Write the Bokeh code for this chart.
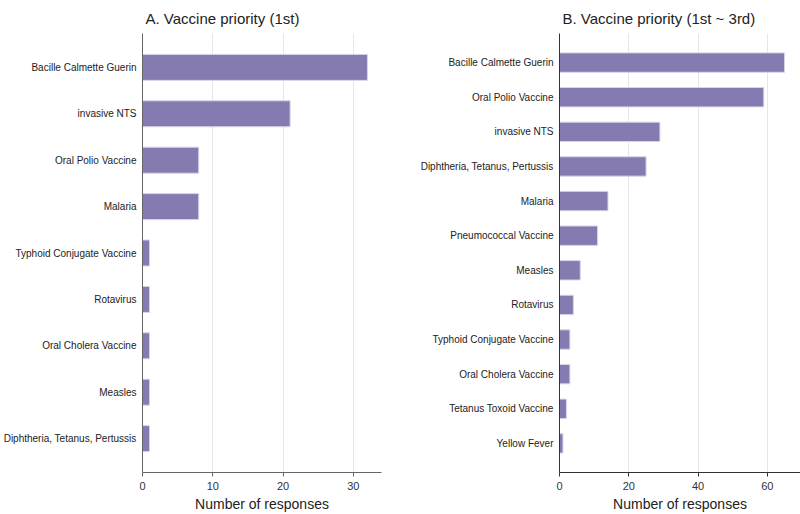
from bokeh.plotting import figure
from bokeh.layouts import row
from bokeh.models import ColumnDataSource, FactorRange, Range1d, SingleIntervalTicker
from bokeh.embed import file_html
from bokeh.resources import INLINE

# Panel A: first-choice vaccine priority
a_vaccines = ["Bacille Calmette Guerin", "invasive NTS", "Oral Polio Vaccine", "Malaria",
              "Typhoid Conjugate Vaccine", "Rotavirus", "Oral Cholera Vaccine", "Measles",
              "Diphtheria, Tetanus, Pertussis"]
a_counts = [32, 21, 8, 8, 1, 1, 1, 1, 1]

# Panel B: vaccine ranked anywhere in the top three
b_vaccines = ["Bacille Calmette Guerin", "Oral Polio Vaccine", "invasive NTS",
              "Diphtheria, Tetanus, Pertussis", "Malaria", "Pneumococcal Vaccine", "Measles",
              "Rotavirus", "Typhoid Conjugate Vaccine", "Oral Cholera Vaccine",
              "Tetanus Toxoid Vaccine", "Yellow Fever"]
b_counts = [65, 59, 29, 25, 14, 11, 6, 4, 3, 3, 2, 1]

FONT = "'Liberation Sans', Arial, sans-serif"
BAR = "#857bb0"


def panel(title, names, counts, x_end, interval, pad, left, right, axis_color):
    src = ColumnDataSource(dict(name=names, count=counts))
    p = figure(
        width=400, height=514,
        y_range=FactorRange(factors=list(reversed(names)), range_padding=pad,
                            range_padding_units="absolute"),
        x_range=Range1d(0, x_end),
        output_backend="svg", toolbar_location=None,
        min_border_left=left, min_border_right=right, min_border_top=29, min_border_bottom=0,
    )
    p.hbar(y="name", right="count", left=0, height=0.56, source=src,
           fill_color=BAR, line_color="#d9d5e8", line_width=1)

    p.title.text = title
    p.title.align = "left"
    p.title.offset = 3
    p.title.vertical_align = "bottom"
    p.title.text_font = FONT
    p.title.text_font_size = "15px"
    p.title.text_font_style = "normal"
    p.title.text_color = "#222222"
    p.title.text_line_height = 0.8
    p.title.standoff = 14

    p.outline_line_color = None
    p.background_fill_color = "white"
    p.border_fill_color = "white"

    p.ygrid.grid_line_color = None
    p.xgrid.grid_line_color = "#e6e6e6"
    p.xaxis.ticker = SingleIntervalTicker(interval=interval)
    p.xaxis.axis_label = "Number of responses"
    p.xaxis.axis_label_text_font = FONT
    p.xaxis.axis_label_text_font_size = "14px"
    p.xaxis.axis_label_text_font_style = "normal"
    p.xaxis.axis_label_text_color = "#222222"
    p.xaxis.axis_label_standoff = 3
    p.xaxis.major_label_text_font = FONT
    p.xaxis.major_label_text_font_size = "11px"
    p.xaxis.major_label_text_color = "#333333"
    p.xaxis.major_label_standoff = 5
    p.xaxis.major_tick_in = 0
    p.xaxis.major_tick_out = 4
    p.xaxis.minor_tick_line_color = None
    p.xaxis.axis_line_color = axis_color
    p.xaxis.major_tick_line_color = axis_color

    p.yaxis.major_label_text_font = FONT
    p.yaxis.major_label_text_font_size = "10px"
    p.yaxis.major_label_text_color = "#222222"
    p.yaxis.major_tick_in = 0
    p.yaxis.major_tick_out = 0
    p.yaxis.major_label_standoff = 6
    p.yaxis.axis_line_color = axis_color
    return p


pa = panel("A. Vaccine priority (1st)", a_vaccines, a_counts, 34, 10, 0.23, 141, 19, "#666666")
pb = panel("B. Vaccine priority (1st ~ 3rd)", b_vaccines, b_counts, 69.6, 20, 0.34, 159, 0, "#333333")

layout = row(pa, pb)
open("out.html", "w").write(file_html(layout, INLINE))
